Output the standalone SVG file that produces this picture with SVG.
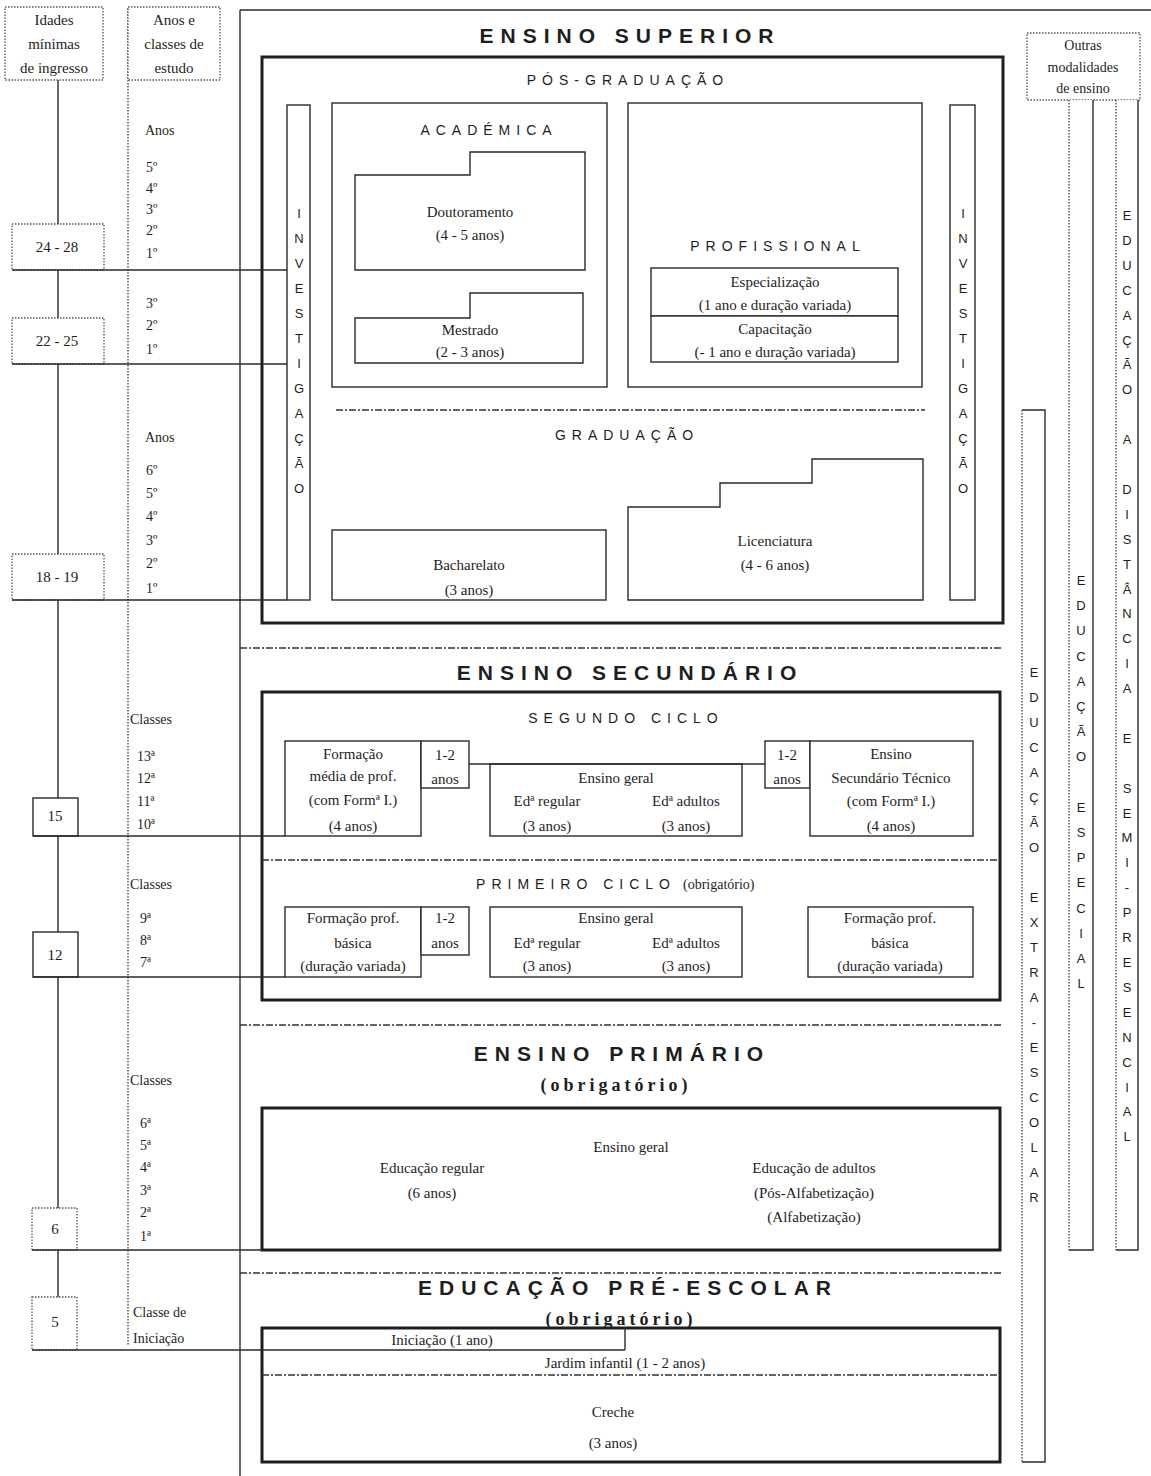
<svg xmlns="http://www.w3.org/2000/svg" width="1151" height="1476" viewBox="0 0 1151 1476">
<style>
.ln{stroke:#2a2a2a;fill:none;stroke-width:1.4}
.bx{stroke:#2a2a2a;fill:#fff;stroke-width:1.4}
.bar{stroke:none;fill:#fff}
.tk{stroke:#1e1e1e;fill:none;stroke-width:3}
.dd{stroke:#333;fill:none;stroke-width:1.5;stroke-dasharray:7 2 2 2}
.dot{stroke:#555;fill:#fff;stroke-width:1.3;stroke-dasharray:1.5 1.5}
.dl{stroke:#555;fill:none;stroke-width:1.5;stroke-dasharray:1.5 1.5}
.t{font-family:"Liberation Serif",serif;font-size:15px;fill:#1e1e1e;text-anchor:middle}
.s{text-anchor:start}
.sm{font-size:14px}
.h{font-family:"Liberation Sans",sans-serif;font-weight:bold;font-size:21px;letter-spacing:7px;fill:#1e1e1e;text-anchor:middle}
.h2{font-family:"Liberation Sans",sans-serif;font-size:14px;letter-spacing:6px;fill:#1e1e1e;text-anchor:middle}
.hb{font-family:"Liberation Serif",serif;font-weight:bold;font-size:18px;letter-spacing:4px;fill:#1e1e1e;text-anchor:middle}
.v{font-family:"Liberation Sans",sans-serif;font-size:13px;fill:#1e1e1e;text-anchor:middle}
</style>
<rect x="0" y="0" width="1151" height="1476" fill="#fff"/>

<g id="frame">
<line class="ln" x1="240" y1="10" x2="1151" y2="10" stroke-width="2"/>
<line class="ln" x1="240" y1="10" x2="240" y2="1476" stroke-width="2"/>
<line class="dl" x1="128" y1="8" x2="128" y2="1345"/>
<line class="dd" x1="240" y1="648" x2="1003" y2="648"/>
<line class="dd" x1="240" y1="1025" x2="1003" y2="1025"/>
<line class="dd" x1="240" y1="1273" x2="1003" y2="1273"/>
</g>

<g id="hdr-idades">
<rect class="dot" x="5" y="7" width="98" height="73"/>
<text class="t" x="54" y="25">Idades</text>
<text class="t" x="54" y="49">mínimas</text>
<text class="t" x="54" y="73">de ingresso</text>
</g>
<g id="hdr-anos">
<rect class="dot" x="128" y="7" width="92" height="73"/>
<text class="t" x="174" y="25">Anos e</text>
<text class="t" x="174" y="49">classes de</text>
<text class="t" x="174" y="73">estudo</text>
</g>

<g id="age-24-28"><rect class="dot" x="12" y="224" width="92" height="46"/><text class="t" x="57" y="252">24 - 28</text></g>
<g id="age-22-25"><rect class="dot" x="12" y="318" width="92" height="46"/><text class="t" x="57" y="346">22 - 25</text></g>
<g id="age-18-19"><rect class="dot" x="12" y="554" width="92" height="46"/><text class="t" x="57" y="582">18 - 19</text></g>
<g id="age-15"><rect class="bx" x="33" y="798" width="45" height="38"/><text class="t" x="55" y="821">15</text></g>
<g id="age-12"><rect class="bx" x="33" y="932" width="45" height="45"/><text class="t" x="55" y="960">12</text></g>
<g id="age-6"><rect class="dot" x="32" y="1208" width="45" height="42"/><text class="t" x="55" y="1234">6</text></g>
<g id="age-5"><rect class="dot" x="32" y="1297" width="45" height="53"/><text class="t" x="55" y="1327">5</text></g>

<g id="years">
<text class="t s sm" x="145" y="135">Anos</text>
<text class="t s sm" x="146" y="172">5º</text>
<text class="t s sm" x="146" y="193">4º</text>
<text class="t s sm" x="146" y="214">3º</text>
<text class="t s sm" x="146" y="235">2º</text>
<text class="t s sm" x="146" y="258">1º</text>
<text class="t s sm" x="146" y="308">3º</text>
<text class="t s sm" x="146" y="330">2º</text>
<text class="t s sm" x="146" y="354">1º</text>
<text class="t s sm" x="145" y="442">Anos</text>
<text class="t s sm" x="146" y="475">6º</text>
<text class="t s sm" x="146" y="498">5º</text>
<text class="t s sm" x="146" y="521">4º</text>
<text class="t s sm" x="146" y="545">3º</text>
<text class="t s sm" x="146" y="568">2º</text>
<text class="t s sm" x="146" y="593">1º</text>
<text class="t s sm" x="130" y="724">Classes</text>
<text class="t s sm" x="137" y="761">13ª</text>
<text class="t s sm" x="137" y="783">12ª</text>
<text class="t s sm" x="137" y="806">11ª</text>
<text class="t s sm" x="137" y="829">10ª</text>
<text class="t s sm" x="130" y="889">Classes</text>
<text class="t s sm" x="140" y="923">9ª</text>
<text class="t s sm" x="140" y="945">8ª</text>
<text class="t s sm" x="140" y="967">7ª</text>
<text class="t s sm" x="130" y="1085">Classes</text>
<text class="t s sm" x="140" y="1128">6ª</text>
<text class="t s sm" x="140" y="1150">5ª</text>
<text class="t s sm" x="140" y="1172">4ª</text>
<text class="t s sm" x="140" y="1195">3ª</text>
<text class="t s sm" x="140" y="1217">2ª</text>
<text class="t s sm" x="140" y="1241">1ª</text>
<text class="t s sm" x="133" y="1317">Classe de</text>
<text class="t s sm" x="133" y="1343">Iniciação</text>
</g>

<g id="ensino-superior">
<text class="h" x="630" y="43">ENSINO SUPERIOR</text>
<rect class="tk" x="262" y="57" width="741" height="566"/>
<text class="h2" x="628" y="85" letter-spacing="7">PÓS-GRADUAÇÃO</text>
</g>
<g id="investigacao-esq">
<rect class="bx" x="287" y="105" width="23" height="495"/>
<text class="v" x="299 299 299 299 299 299 299 299 299 299 299 299" y="218 243 268 293 318 343 368 393 418 443 468 493">INVESTIGAÇÃO</text>
</g>
<g id="investigacao-dir">
<rect class="bx" x="950" y="105" width="25" height="495"/>
<text class="v" x="963 963 963 963 963 963 963 963 963 963 963 963" y="218 243 268 293 318 343 368 393 418 443 468 493">INVESTIGAÇÃO</text>
</g>
<g id="academica">
<rect class="bx" x="332" y="103" width="275" height="284"/>
<text class="h2" x="489" y="135" letter-spacing="5">ACADÉMICA</text>
</g>
<g id="doutoramento">
<path class="bx" d="M355,175 H470 V152 H585 V270 H355 Z"/>
<text class="t" x="470" y="217">Doutoramento</text>
<text class="t" x="470" y="240">(4 - 5 anos)</text>
</g>
<g id="mestrado">
<path class="bx" d="M355,318 H470 V293 H583 V363 H355 Z"/>
<text class="t" x="470" y="335">Mestrado</text>
<text class="t" x="470" y="357">(2 - 3 anos)</text>
</g>
<g id="profissional">
<rect class="bx" x="628" y="103" width="294" height="284"/>
<text class="h2" x="778" y="251">PROFISSIONAL</text>
</g>
<g id="especializacao">
<rect class="bx" x="651" y="268" width="247" height="48"/>
<text class="t" x="775" y="287">Especialização</text>
<text class="t" x="775" y="310">(1 ano e duração variada)</text>
</g>
<g id="capacitacao">
<rect class="bx" x="651" y="316" width="247" height="46"/>
<text class="t" x="775" y="334">Capacitação</text>
<text class="t" x="775" y="357">(- 1 ano e duração variada)</text>
</g>
<g id="graduacao">
<line class="dd" x1="336" y1="410" x2="925" y2="410"/>
<text class="h2" x="627" y="440" letter-spacing="7">GRADUAÇÃO</text>
</g>
<g id="bacharelato">
<rect class="bx" x="332" y="530" width="274" height="70"/>
<text class="t" x="469" y="570">Bacharelato</text>
<text class="t" x="469" y="595">(3 anos)</text>
</g>
<g id="licenciatura">
<path class="bx" d="M628,507 H720 V483 H812 V459 H923 V600 H628 Z"/>
<text class="t" x="775" y="546">Licenciatura</text>
<text class="t" x="775" y="570">(4 - 6 anos)</text>
</g>

<g id="ensino-secundario">
<text class="h" x="630" y="680">ENSINO SECUNDÁRIO</text>
<rect class="tk" x="262" y="692" width="738" height="308"/>
<text class="h2" x="626" y="723">SEGUNDO CICLO</text>
<line class="dd" x1="262" y1="860" x2="1000" y2="860"/>
<text class="h2" x="576" y="889">PRIMEIRO CICLO</text>
<text class="t sm s" x="683" y="889">(obrigatório)</text>
</g>
<g id="formacao-media">
<rect class="bx" x="285" y="741" width="136" height="95"/>
<text class="t" x="353" y="759">Formação</text>
<text class="t" x="353" y="781">média de prof.</text>
<text class="t" x="353" y="805">(com Formª I.)</text>
<text class="t" x="353" y="831">(4 anos)</text>
</g>
<g id="dur-1-2-a">
<rect class="bx" x="421" y="741" width="48" height="47"/>
<text class="t" x="445" y="760">1-2</text>
<text class="t" x="445" y="784">anos</text>
</g>
<g id="ensino-geral-2">
<rect class="bx" x="490" y="764" width="252" height="72"/>
<text class="t" x="616" y="783">Ensino geral</text>
<text class="t" x="547" y="806">Edª regular</text>
<text class="t" x="686" y="806">Edª adultos</text>
<text class="t" x="547" y="831">(3 anos)</text>
<text class="t" x="686" y="831">(3 anos)</text>
</g>
<g id="dur-1-2-b">
<rect class="bx" x="765" y="741" width="45" height="47"/>
<text class="t" x="787" y="760">1-2</text>
<text class="t" x="787" y="784">anos</text>
</g>
<g id="secundario-tecnico">
<rect class="bx" x="810" y="741" width="163" height="95"/>
<text class="t" x="891" y="759">Ensino</text>
<text class="t" x="891" y="783">Secundário Técnico</text>
<text class="t" x="891" y="806">(com Formª I.)</text>
<text class="t" x="891" y="831">(4 anos)</text>
</g>
<g id="formacao-basica-a">
<rect class="bx" x="285" y="907" width="136" height="70"/>
<text class="t" x="353" y="923">Formação prof.</text>
<text class="t" x="353" y="948">básica</text>
<text class="t" x="353" y="971">(duração variada)</text>
</g>
<g id="dur-1-2-c">
<rect class="bx" x="421" y="907" width="48" height="48"/>
<text class="t" x="445" y="923">1-2</text>
<text class="t" x="445" y="948">anos</text>
</g>
<g id="ensino-geral-1">
<rect class="bx" x="490" y="907" width="252" height="70"/>
<text class="t" x="616" y="923">Ensino geral</text>
<text class="t" x="547" y="948">Edª regular</text>
<text class="t" x="686" y="948">Edª adultos</text>
<text class="t" x="547" y="971">(3 anos)</text>
<text class="t" x="686" y="971">(3 anos)</text>
</g>
<g id="formacao-basica-b">
<rect class="bx" x="808" y="907" width="165" height="70"/>
<text class="t" x="890" y="923">Formação prof.</text>
<text class="t" x="890" y="948">básica</text>
<text class="t" x="890" y="971">(duração variada)</text>
</g>

<g id="ensino-primario">
<text class="h" x="622" y="1061">ENSINO PRIMÁRIO</text>
<text class="hb" x="616" y="1091">(obrigatório)</text>
<rect class="tk" x="262" y="1108" width="738" height="142"/>
<text class="t" x="631" y="1152">Ensino geral</text>
<text class="t" x="432" y="1173">Educação regular</text>
<text class="t" x="432" y="1198">(6 anos)</text>
<text class="t" x="814" y="1173">Educação de adultos</text>
<text class="t" x="814" y="1198">(Pós-Alfabetização)</text>
<text class="t" x="814" y="1222">(Alfabetização)</text>
</g>

<g id="pre-escolar">
<text class="h" x="628" y="1295">EDUCAÇÃO PRÉ-ESCOLAR</text>
<text class="hb" x="621" y="1325" font-size="16" letter-spacing="2">(obrigatório)</text>
<rect class="tk" x="262" y="1328" width="738" height="134"/>
<line class="dd" x1="262" y1="1375" x2="1000" y2="1375"/>
<text class="t" x="625" y="1368">Jardim infantil (1 - 2 anos)</text>
<text class="t" x="613" y="1417">Creche</text>
<text class="t" x="613" y="1448">(3 anos)</text>
</g>
<g id="iniciacao">
<path class="ln" d="M625,1328 V1350"/>
<text class="t" x="442" y="1345">Iniciação (1 ano)</text>
</g>

<g id="outras-modalidades">
<rect class="dot" x="1027" y="33" width="113" height="67"/>
<text class="t sm" x="1083" y="50">Outras</text>
<text class="t sm" x="1083" y="72">modalidades</text>
<text class="t sm" x="1083" y="93">de ensino</text>
</g>
<g id="educacao-extra-escolar">
<rect class="bar" x="1022" y="410" width="23" height="1052"/>
<path class="ln" d="M1022,410 H1045 V1462 H1022"/>
<line class="dl" x1="1022" y1="410" x2="1022" y2="1462"/>
<text class="v" x="1034 1034 1034 1034 1034 1034 1034 1034 1034 1034 1034 1034 1034 1034 1034 1034 1034 1034 1034 1034 1034 1034" y="677 702 727 752 777 802 827 852 877 902 927 952 977 1002 1027 1052 1077 1102 1127 1152 1177 1202">EDUCAÇÃO EXTRA-ESCOLAR</text>
</g>
<g id="educacao-especial">
<rect class="bar" x="1069" y="100" width="24" height="1150"/>
<path class="ln" d="M1093,100 V1250 H1069"/>
<line class="dl" x1="1069" y1="100" x2="1069" y2="1250"/>
<text class="v" x="1081 1081 1081 1081 1081 1081 1081 1081 1081 1081 1081 1081 1081 1081 1081 1081 1081" y="585 610 635 661 686 711 736 761 787 812 837 862 887 913 938 963 988">EDUCAÇÃO ESPECIAL</text>
</g>
<g id="educacao-distancia">
<rect class="bar" x="1116" y="100" width="22" height="1150"/>
<path class="ln" d="M1138,100 V1250 H1116"/>
<line class="dl" x1="1116" y1="100" x2="1116" y2="1250"/>
<text class="v" x="1127 1127 1127 1127 1127 1127 1127 1127 1127 1127 1127 1127 1127 1127 1127 1127 1127 1127 1127 1127 1127 1127 1127 1127 1127 1127 1127 1127 1127 1127 1127 1127 1127 1127 1127 1127 1127 1127" y="220 245 270 295 320 345 369 394 419 444 469 494 519 544 569 594 618 643 668 693 718 743 768 793 818 842 867 892 917 942 967 992 1017 1042 1067 1092 1116 1141">EDUCAÇÃO A DISTÂNCIA E SEMI-PRESENCIAL</text>
</g>

<g id="connectors">
<path class="ln" d="M58,80 V224 M58,270 V318 M58,364 V554 M58,600 V798 M58,836 V932 M58,977 V1208 M58,1250 V1297"/>
<path class="ln" d="M12,270 H287 M12,364 H287 M12,600 H287 M33,836 H285 M33,977 H285 M32,1250 H262 M32,1350 H625"/>
<path class="ln" d="M469,764 H765"/>
</g>
</svg>
